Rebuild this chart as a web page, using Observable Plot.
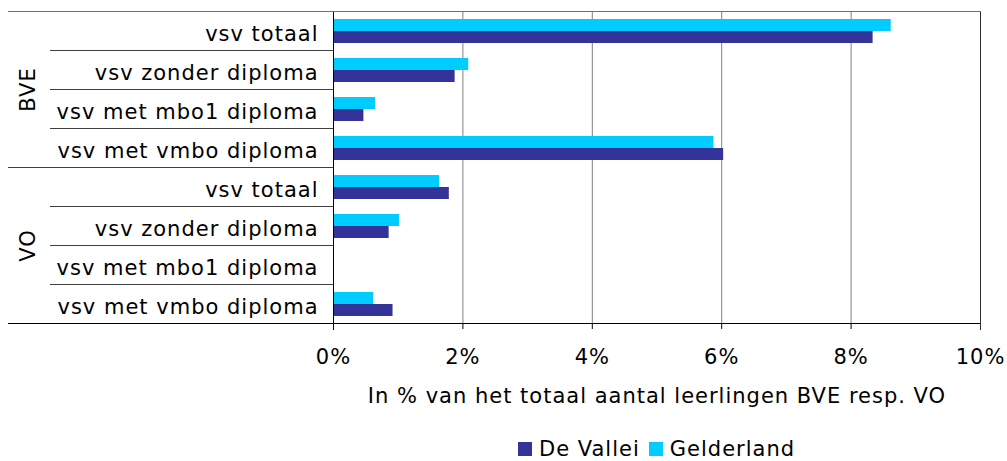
<!DOCTYPE html>
<html>
<head>
<meta charset="utf-8">
<script src="https://cdn.jsdelivr.net/npm/d3@7"></script>
<script src="https://cdn.jsdelivr.net/npm/@observablehq/plot@0.6"></script>
<style>
  html, body { margin: 0; padding: 0; background: #fff; }
  body { position: relative; width: 1007px; height: 461px; overflow: hidden; font-family: "DejaVu Sans", sans-serif; }
  #legend { position: absolute; left: 518px; top: 439px; font-size: 21px; line-height: 21px; letter-spacing: 1px; white-space: nowrap; color: #000; }
  #legend .sw { display: inline-block; width: 14px; height: 14px; vertical-align: baseline; margin-right: 7px; }
  #legend .item + .item { margin-left: 9px; }
</style>
</head>
<body>
<div id="chart"></div>
<div id="legend"></div>
<script>
// ---- data ----
const groups = ["BVE", "BVE", "BVE", "BVE", "VO", "VO", "VO", "VO"];
const categories = [
  "vsv totaal", "vsv zonder diploma", "vsv met mbo1 diploma", "vsv met vmbo diploma",
  "vsv totaal", "vsv zonder diploma", "vsv met mbo1 diploma", "vsv met vmbo diploma"
];
const seriesNames = ["Gelderland", "De Vallei"];
const gelderland = [8.62, 2.09, 0.65, 5.88, 1.64, 1.02, 0, 0.62];
const deVallei   = [8.34, 1.88, 0.47, 6.03, 1.79, 0.86, 0, 0.92];
const xTicks = [0, 2, 4, 6, 8, 10];
const legendOrder = ["De Vallei", "Gelderland"];
const seriesColors = ["#00CCFF", "#333399"];
const axisTitle = "In % van het totaal aantal leerlingen BVE resp. VO";

// ---- tables ----
const rowKeys = categories.map((c, i) => groups[i] + "|" + i + "|" + c);
const bars = rowKeys.flatMap((k, i) => [
  {row: k, series: "Gelderland", value: gelderland[i]},
  {row: k, series: "De Vallei", value: deVallei[i]}
]);
const labels = rowKeys.map((k, i) => ({row: k, label: categories[i]}));
const groupNames = [...new Set(groups)];
const groupLabels = groupNames.map(g => {
  const idx = groups.indexOf(g);
  return {row: rowKeys[idx + 1], label: g};
});

const chart = Plot.plot({
  width: 1007,
  height: 425,
  marginLeft: 333,
  marginRight: 27,
  marginTop: 11,
  marginBottom: 102,
  style: {fontFamily: "DejaVu Sans, sans-serif", fontSize: "21px", letterSpacing: "1px", color: "#000", background: "#fff", overflow: "visible"},
  x: {domain: [0, 10], ticks: xTicks, tickFormat: d => d + "%", tickSize: 6, tickPadding: 20,
      label: axisTitle, labelAnchor: "center", labelArrow: "none", labelOffset: 79},
  fy: {domain: rowKeys, padding: 0, axis: null},
  y: {domain: seriesNames, paddingInner: 0, paddingOuter: 0.625, axis: null},
  color: {domain: seriesNames, range: seriesColors},
  marks: [
    Plot.ruleX(xTicks.slice(1, -1), {stroke: "#808080", strokeWidth: 1}),
    Plot.barX(bars, {fy: "row", y: "series", x: "value", fill: "series"}),
    Plot.text(labels, {fy: "row", text: "label", frameAnchor: "left", textAnchor: "end", dx: -15, dy: 3, fill: "#000"}),
    Plot.text(groupLabels, {fy: "row", text: "label", frameAnchor: "bottom-left", rotate: -90, textAnchor: "middle", lineAnchor: "middle", dx: -305, fill: "#000"})
  ]
});

document.getElementById("chart").appendChild(chart);

// ---- structural lines (from the library's scales) ----
const svgEl = chart.tagName.toLowerCase() === "svg" ? chart : chart.querySelector("svg");
const svg = d3.select(svgEl);
const xs = chart.scale("x");
const fys = chart.scale("fy");
const bw = fys.bandwidth;
const x0 = Math.round(xs.apply(0)) + 0.5;
const x10 = Math.round(xs.apply(10)) + 0.5;
const yTop = Math.round(fys.apply(rowKeys[0])) + 0.5;
const yBot = Math.round(fys.apply(rowKeys[rowKeys.length - 1]) + bw) + 0.5;
const g = svg.append("g").attr("shape-rendering", "crispEdges").attr("fill", "none");
rowKeys.forEach((k, i) => {
  const y = Math.round(fys.apply(k)) + 0.5;
  const groupStart = i === 0 || groups[i] !== groups[i - 1];
  const xa = groupStart ? 8 : 50;
  const xb = i === 0 ? x10 : x0;
  g.append("line").attr("x1", xa).attr("x2", xb).attr("y1", y).attr("y2", y)
    .attr("stroke", i === 0 ? "#707070" : "#404040");
});
g.append("line").attr("x1", 8).attr("x2", x10).attr("y1", yBot).attr("y2", yBot).attr("stroke", "#000");
g.append("line").attr("x1", x0).attr("x2", x0).attr("y1", yTop).attr("y2", yBot + 6).attr("stroke", "#000");
g.append("line").attr("x1", x10).attr("x2", x10).attr("y1", yTop).attr("y2", yBot + 6).attr("stroke", "#303030");

// ---- legend ----
const legend = d3.select("#legend");
legendOrder.forEach(name => {
  const item = legend.append("span").attr("class", "item");
  item.append("span").attr("class", "sw").style("background", seriesColors[seriesNames.indexOf(name)]);
  item.append("span").text(name);
});
</script>
</body>
</html>
